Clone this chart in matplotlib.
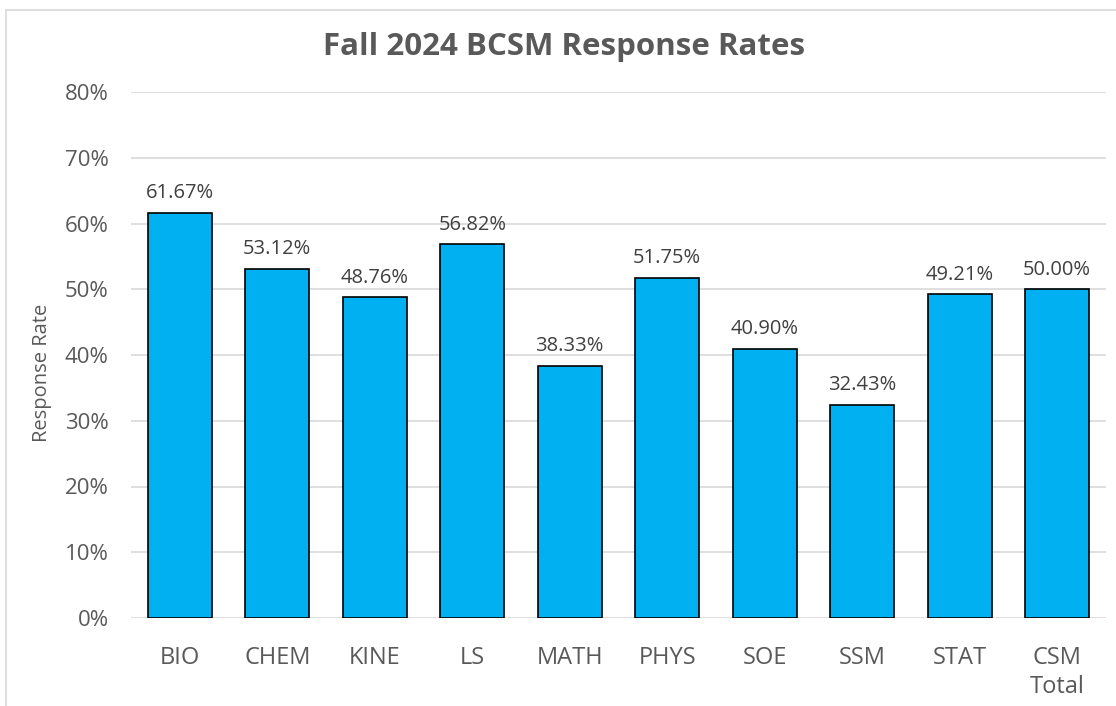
import matplotlib.pyplot as plt
from matplotlib.lines import Line2D
from matplotlib.ticker import PercentFormatter

departments = ["BIO", "CHEM", "KINE", "LS", "MATH", "PHYS", "SOE", "SSM", "STAT", "CSM\nTotal"]
rates = [61.67, 53.12, 48.76, 56.82, 38.33, 51.75, 40.90, 32.43, 49.21, 50.00]

plt.rcParams['font.family'] = ['Open Sans', 'DejaVu Sans']
text_color = '#595959'

fig = plt.figure(figsize=(11.16, 7.06), dpi=100)
ax = fig.add_axes([131 / 1116, 1 - 618 / 706, (1106 - 131) / 1116, (618 - 92) / 706])

x = range(len(departments))
bars = ax.bar(x, rates, width=0.66, color='#00B0F0', edgecolor='black', linewidth=1.2, zorder=3)

for b, v in zip(bars, rates):
    ax.annotate(f"{v:.2f}%", (b.get_x() + b.get_width() / 2, v), xytext=(0, 7),
                textcoords='offset points', ha='center', va='bottom',
                fontsize=14.5, color='#404040')

ax.set_ylim(0, 80)
ax.set_xlim(-0.5, len(departments) - 0.5)
ax.set_yticks(range(0, 81, 10))
ax.yaxis.set_major_formatter(PercentFormatter(decimals=0))
ax.set_xticks(list(x))
ax.set_xticklabels(departments, linespacing=1.3)
ax.tick_params(axis='both', length=0, colors=text_color)
ax.tick_params(axis='x', pad=20, labelsize=17)
ax.tick_params(axis='y', pad=16, labelsize=16)
ax.grid(axis='y', color='#d9d9d9', linewidth=1.2, zorder=0)
for s in ax.spines.values():
    s.set_visible(False)

ax.set_ylabel("Response Rate", fontsize=14.5, color=text_color)
ax.yaxis.set_label_coords((52 - 131) / 975, (618 - 373) / 526)
fig.text(564 / 1116, 1 - 47 / 706, "Fall 2024 BCSM Response Rates", ha='center', va='center',
         fontsize=22.5, fontweight='bold', color=text_color)

# chart border (top and left edges visible)
fig.add_artist(Line2D([6 / 1116, 6 / 1116], [0, 1 - 10 / 706], color='#d9d9d9', linewidth=1.2))
fig.add_artist(Line2D([6 / 1116, 1], [1 - 10 / 706, 1 - 10 / 706], color='#d9d9d9', linewidth=1.2))

fig.savefig("out.png", dpi=100)
